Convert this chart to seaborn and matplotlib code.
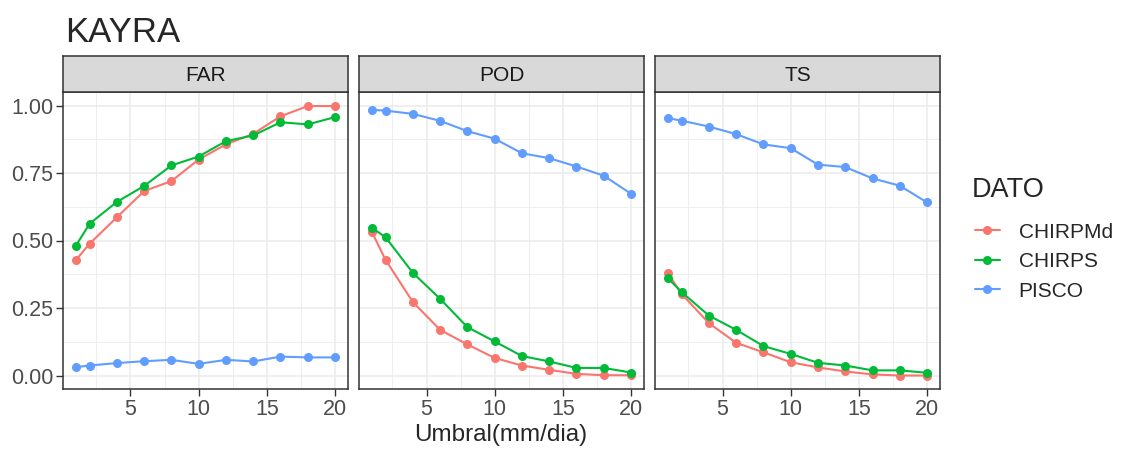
import numpy as np
import pandas as pd
import matplotlib.pyplot as plt
import seaborn as sns

# umbrales (mm/dia)
umbral = [1, 2, 4, 6, 8, 10, 12, 14, 16, 18, 20]
metricas = ['FAR', 'POD', 'TS']
datos = ['CHIRPMd', 'CHIRPS', 'PISCO']

far_chirpmd = [0.428, 0.488, 0.586, 0.683, 0.720, 0.800, 0.856, 0.895, 0.960, 0.998, 0.998]
far_chirps = [0.481, 0.562, 0.643, 0.702, 0.778, 0.811, 0.868, 0.889, 0.938, 0.930, 0.957]
far_pisco = [0.031, 0.037, 0.046, 0.053, 0.058, 0.043, 0.058, 0.052, 0.070, 0.067, 0.067]

pod_chirpmd = [0.531, 0.428, 0.272, 0.169, 0.115, 0.065, 0.037, 0.021, 0.006, 0.001, 0.001]
pod_chirps = [0.547, 0.512, 0.380, 0.284, 0.179, 0.126, 0.072, 0.052, 0.028, 0.028, 0.011]
pod_pisco = [0.984, 0.981, 0.969, 0.943, 0.905, 0.877, 0.823, 0.805, 0.774, 0.740, 0.673]

ts_chirpmd = [0.379, 0.302, 0.194, 0.121, 0.086, 0.049, 0.030, 0.015, 0.004, 0.000, 0.000]
ts_chirps = [0.360, 0.309, 0.222, 0.169, 0.109, 0.080, 0.047, 0.037, 0.019, 0.019, 0.010]
ts_pisco = [0.953, 0.944, 0.922, 0.894, 0.856, 0.842, 0.781, 0.772, 0.730, 0.703, 0.641]

valores = {
    'FAR': [far_chirpmd, far_chirps, far_pisco],
    'POD': [pod_chirpmd, pod_chirps, pod_pisco],
    'TS': [ts_chirpmd, ts_chirps, ts_pisco],
}

rows = []
for m in metricas:
    for d, serie in zip(datos, valores[m]):
        for u, v in zip(umbral, serie):
            rows.append({'metrica': m, 'DATO': d, 'umbral': u, 'valor': v})
df = pd.DataFrame(rows)

sns.set_theme(style='white')
plt.rcParams['font.family'] = ['Liberation Sans', 'DejaVu Sans']

paleta = {'CHIRPMd': '#F8766D', 'CHIRPS': '#00BA38', 'PISCO': '#619CFF'}

W, H = 1121, 450
fig = plt.figure(figsize=(W / 100, H / 100), dpi=100)

lefts = [63, 359, 655]
pw = 285
top, bottom = 92, 389
strip_top = 56

for i, m in enumerate(metricas):
    ax = fig.add_axes([lefts[i] / W, (H - bottom) / H, pw / W, (bottom - top) / H])
    sns.lineplot(data=df[df.metrica == m], x='umbral', y='valor', hue='DATO',
                 palette=paleta, marker='o', markersize=6.5, markeredgewidth=0,
                 linewidth=1.5, ax=ax, legend=(i == 0))
    ax.set_xlim(1 - 0.95, 20 + 0.95)
    ax.set_ylim(-0.05, 1.05)
    ax.set_xticks([5, 10, 15, 20])
    ax.set_xticks([2.5, 7.5, 12.5, 17.5], minor=True)
    ax.set_yticks([0, 0.25, 0.5, 0.75, 1.0])
    ax.set_yticks([0.125, 0.375, 0.625, 0.875], minor=True)
    ax.grid(True, which='major', color='#EBEBEB', linewidth=1.1)
    ax.grid(True, which='minor', color='#EBEBEB', linewidth=0.6)
    ax.set_axisbelow(True)
    for s in ax.spines.values():
        s.set_color('#333333')
        s.set_linewidth(1.1)
    ax.tick_params(axis='both', which='major', length=5, width=1, color='#333333',
                   labelsize=15.5, labelcolor='#4D4D4D', pad=2, bottom=True, left=(i == 0))
    ax.tick_params(which='minor', length=0)
    ax.set_xlabel('')
    ax.set_ylabel('')
    if i == 0:
        ax.yaxis.set_major_formatter(plt.FuncFormatter(lambda v, p: '%.2f' % v))
        handles, labels = ax.get_legend_handles_labels()
        ax.get_legend().remove()
    else:
        ax.set_yticklabels([])

    # strip
    sx = fig.add_axes([lefts[i] / W, (H - top) / H, pw / W, (top - strip_top) / H])
    sx.set_facecolor('#D9D9D9')
    sx.set_xticks([])
    sx.set_yticks([])
    for s in sx.spines.values():
        s.set_color('#333333')
        s.set_linewidth(1.1)
    sx.text(0.5, 0.45, m, ha='center', va='center', fontsize=15, color='#1A1A1A',
            transform=sx.transAxes)

fig.text(65 / W, 1 - 42 / H, 'KAYRA', fontsize=25, ha='left', va='baseline')
fig.text(501 / W, 1 - 435 / H, 'Umbral(mm/dia)', fontsize=17.5, ha='center', va='center')

fig.text(972 / W, 1 - 197 / H, 'DATO', fontsize=19.5, ha='left', va='baseline')
leg = fig.legend(handles, labels, loc='upper left',
                 bbox_to_anchor=(956 / W, 1 - 204 / H), frameon=False,
                 fontsize=15, handlelength=1.2,
                 labelspacing=0.5, handletextpad=0.9)

fig.savefig('out.png', dpi=100)
